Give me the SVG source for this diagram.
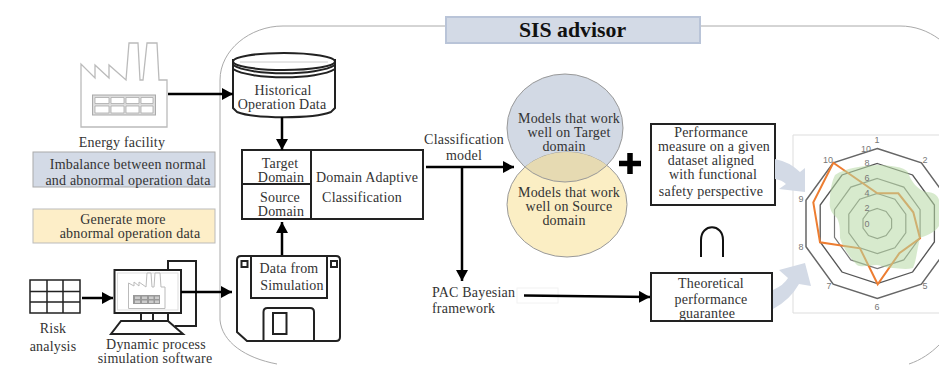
<svg xmlns="http://www.w3.org/2000/svg" width="939" height="365" viewBox="0 0 939 365">
<style>
text{font-family:"Liberation Serif","Times New Roman",serif;font-size:14px;letter-spacing:.2px;fill:#333;text-anchor:middle}
.bk{fill:none;stroke:#222;stroke-width:2}
.wb{fill:#fff;stroke:#222;stroke-width:2}
.ln{stroke:#000;stroke-width:2.500;fill:none}
.gr{fill:none;stroke:#aaa;stroke-width:1}
.fac{fill:#fff;stroke:#bbb;stroke-width:1.300}
text.tick{font-family:"Liberation Sans",Arial,sans-serif;font-size:9px;letter-spacing:0;fill:#777}
</style>
<defs>
<marker id="arr" markerUnits="userSpaceOnUse" markerWidth="12" markerHeight="14" refX="11" refY="6" orient="auto"><path d="M0,0L11,6L0,12Z" fill="#000"/></marker>
<clipPath id="clipB"><ellipse cx="567" cy="204.500" rx="60" ry="52.500"/></clipPath>
</defs>
<g id="frame"><path class="gr" d="M220,320V80C220,50 250,26 283,26H900C915,26 928,31 939,39"/><path class="gr" d="M220,320C222,342 245,358 277,364M909,364C921,360 931,353 939,345"/></g>
<g id="title"><rect x="446" y="17" width="254" height="26" fill="#d3dae6" stroke="#b9c4d8" stroke-width="2"/><text x="572.500" y="37" style="font-size:21.800px;font-weight:bold;fill:#111;letter-spacing:0">SIS advisor</text></g>
<g id="energy-facility">
<path class="fac" d="M81,64V127H167V80H159L157,43H147L143,80H140L138,43H129L126,80L109,65V78L95,65V78Z"/>
<rect x="92.500" y="95" width="63" height="20" fill="#ddd" stroke="#aaa"/>
<path d="M95,97.500h14v6h-14zM111,97.500h13v6h-13zM126,97.500h13v6h-13zM141,97.500h12v6h-12zM95,106h14v7h-14zM111,106h13v7h-13zM126,106h13v7h-13zM141,106h12v7h-12z" fill="#fff" stroke="#aaa" stroke-width=".8"/>
<text x="122" y="147">Energy facility</text></g>
<g id="imbalance"><rect x="33" y="152" width="182" height="35" fill="#d3dae6" stroke="#aaa"/><text x="128" y="169">Imbalance between normal</text><text x="128" y="185">and abnormal operation data</text></g>
<g id="generate"><rect x="33" y="209" width="182" height="34" fill="#fdeec8" stroke="#bbb"/><text x="123" y="223.500">Generate more</text><text x="130" y="238">abnormal operation data</text></g>
<g id="risk-analysis"><path class="bk" d="M30,280H80V313H30ZM47,280V313M63,280V313M30,291.500H80M30,302H80" style="stroke-width:1.500"/><text x="53" y="333">Risk</text><text x="53" y="351">analysis</text></g>
<g id="simulation-software">
<path class="bk" d="M168,270V261H196V326H175"/>
<rect class="wb" x="114.500" y="270" width="66.500" height="43"/>
<rect x="117.500" y="273" width="60.500" height="37" fill="#fff" stroke="#ddd"/>
<path d="M128.500,283V308.500H165V287H161L160,273H155L154,287H152L151,273H147L146,287L139,282V286L134,282V286Z" fill="#fff" stroke="#bbb"/>
<rect x="133" y="295" width="27" height="9" fill="#999"/>
<path d="M135,296.500h5v2.500h-5zM142,296.500h5v2.500h-5zM149,296.500h4.500v2.500h-4.500zM155,296.500h4v2.500h-4zM135,300.500h5v2.500h-5zM142,300.500h5v2.500h-5zM149,300.500h4.500v2.500h-4.500zM155,300.500h4v2.500h-4z" fill="#ccc"/>
<path d="M141,314V321M153,314V321M168,314V321M121,321H168L183,334H111Z" class="bk"/>
<text x="156" y="349">Dynamic process</text><text x="155" y="363">simulation software</text></g>
<g id="historical-data">
<path class="wb" d="M233,60V108L237,112C255,119 313,119 331,112L335,108V60Z"/>
<ellipse cx="284" cy="61.500" rx="51" ry="8.500" class="wb"/>
<path d="M233,65C250,76 318,76 335,65M233,69C250,80 318,80 335,69" class="bk"/>
<path d="M240,62H328" stroke="#ccc"/>
<text x="283" y="95">Historical</text><text x="282" y="109">Operation Data</text></g>
<g id="classification-table">
<rect class="wb" x="242" y="150" width="181" height="69"/><path class="bk" d="M311,150V219M242,184H311"/>
<text x="280" y="168">Target</text><text x="281" y="182">Domain</text><text x="280" y="202">Source</text><text x="281" y="216">Domain</text><text x="367" y="182">Domain Adaptive</text><text x="362" y="202">Classification</text></g>
<g id="simulation-data">
<path class="wb" d="M241,256H336Q340,256 340,260V337Q340,341 336,341H247L237,332V260Q237,256 241,256Z"/>
<rect class="wb" x="251" y="256" width="76" height="42"/>
<path class="bk" d="M241.500,261h6v6h-6zM331,261h6v6h-6zM263.500,341V312Q263.500,308 267.500,308H310Q314,308 314,312V341M273,313h13.500v21h-13.500z"/>
<text x="289" y="273">Data from</text><text x="292" y="290">Simulation</text></g>
<g id="classification-model"><text x="464" y="144">Classification</text><text x="464" y="160">model</text></g>
<g id="target-models"><ellipse cx="565" cy="128" rx="58" ry="54" fill="#d2d9e4" stroke="#999"/></g>
<g id="source-models"><ellipse cx="567" cy="204.500" rx="60" ry="52.500" fill="#fbeec4" stroke="#999"/><ellipse cx="565" cy="128" rx="58" ry="54" fill="#e6dab2" stroke="#999" clip-path="url(#clipB)"/>
<text x="569" y="123">Models that work</text><text x="569" y="137">well on Target</text><text x="564" y="151">domain</text>
<text x="569" y="197">Models that work</text><text x="569" y="211">well on Source</text><text x="564" y="225">domain</text></g>
<g id="plus"><path d="M619,163.500H641M630,153V174" stroke="#000" stroke-width="5.500" fill="none"/></g>
<g id="performance"><rect class="wb" x="651" y="124" width="124" height="81"/>
<text x="711" y="137">Performance</text><text x="714" y="151">measure on a given</text><text x="711" y="165">dataset aligned</text><text x="713" y="179">with functional</text><text x="711" y="196">safety perspective</text></g>
<g id="intersection"><path d="M701,257V240C701,223 723,223 723,240V257" fill="none" stroke="#111" stroke-width="2"/></g>
<g id="theoretical"><rect class="wb" x="651" y="273" width="121" height="48"/>
<text x="711" y="288">Theoretical</text><text x="711" y="304">performance</text><text x="707" y="318">guarantee</text></g>
<g id="pac-bayesian"><rect x="517" y="288" width="41" height="15" fill="#fff" stroke="#f2f2f2"/><text x="432" y="297" style="text-anchor:start">PAC Bayesian</text><text x="432" y="313" style="text-anchor:start">framework</text></g>
<g id="radar">
<path d="M793,313V135H939M793,313H939" fill="none" stroke="#ddd"/>
<g transform="translate(877.3 223.500)" fill="none">
<polygon stroke="#666" stroke-width="1.500" points="0,-75 44.100,-60.700 71.300,-23.200 71.300,23.200 44.100,60.700 0,75 -44.100,60.700 -71.300,23.200 -71.300,-23.200 -44.100,-60.700"/>
<polygon stroke="#555" stroke-width="1.300" points="0,-60 35.300,-48.500 57.100,-18.500 57.100,18.500 35.300,48.500 0,60 -35.300,48.500 -57.100,18.500 -57.100,-18.500 -35.300,-48.500"/>
<polygon stroke="#777" stroke-width="1.200" points="0,-45 26.500,-36.400 42.800,-13.900 42.800,13.900 26.500,36.400 0,45 -26.500,36.400 -42.800,13.900 -42.800,-13.900 -26.500,-36.400"/>
<polygon stroke="#777" stroke-width="1.200" points="0,-30 17.600,-24.300 28.500,-9.300 28.500,9.300 17.600,24.300 0,30 -17.600,24.300 -28.500,9.300 -28.500,-9.300 -17.600,-24.300"/>
<polygon stroke="#777" stroke-width="1.200" points="0,-15 8.800,-12.100 14.300,-4.600 14.300,4.600 8.800,12.100 0,15 -8.800,12.100 -14.300,4.600 -14.300,-4.600 -8.800,-12.100"/>
</g>
<polygon points="833.300,162.700 877.300,193.300 898.300,193.300 913.300,212.300 920,238.300 899.300,253.300 877.700,284.300 860,248.300 820,242.300 813.300,202.300" fill="none" stroke="#ed7d31" stroke-width="2"/>
<path d="M835,175C845,168 862,166 877,165C890,165 904,167 908,172C910,180 918,191 927,192C934,192 938,196 939,200V226C934,234 924,236 920,238C917,250 916,262 913,268C905,270 898,268 893,268C885,268 880,265 877,265C870,265 862,268 857,265C850,258 843,248 840,238C840,230 840,224 837,218C830,212 829,206 830,200C830,190 832,181 835,175Z" fill="#b7d9a4" fill-opacity=".55"/>
<g class="ticks"><text class="tick" x="877" y="143">1</text><text class="tick" x="925" y="163">2</text><text class="tick" x="828" y="163">10</text><text class="tick" x="801" y="202">9</text><text class="tick" x="801" y="250">8</text><text class="tick" x="829" y="289">7</text><text class="tick" x="925" y="289">5</text><text class="tick" x="877" y="310">6</text>
<text class="tick" x="866" y="152">10</text><text class="tick" x="867" y="166">8</text><text class="tick" x="867" y="181">6</text><text class="tick" x="867" y="196">4</text><text class="tick" x="867" y="211">2</text><text class="tick" x="867" y="227">0</text></g>
</g>
<g id="connectors">
<path d="M775,159Q790,162 800,172L805,168L805,192L779,189L786,184Q782,180 775,179Z" fill="#d3dae6"/>
<path d="M773,290Q784,285 788,278L779,270L805,263L811,286L799,284Q790,300 773,309Z" fill="#d3dae6"/>
<path class="ln" marker-end="url(#arr)" d="M168,94H233"/>
<path class="ln" marker-end="url(#arr)" d="M82,298H113"/>
<path class="ln" marker-end="url(#arr)" d="M181,292H232"/>
<path class="ln" marker-end="url(#arr)" d="M282,117V150"/>
<path class="ln" marker-end="url(#arr)" d="M282,255V222"/>
<path class="ln" marker-end="url(#arr)" d="M426,167H514"/>
<path class="ln" marker-end="url(#arr)" d="M462,167V281"/>
<path class="ln" marker-end="url(#arr)" d="M524,295.500L650,297"/>
</g>
</svg>
